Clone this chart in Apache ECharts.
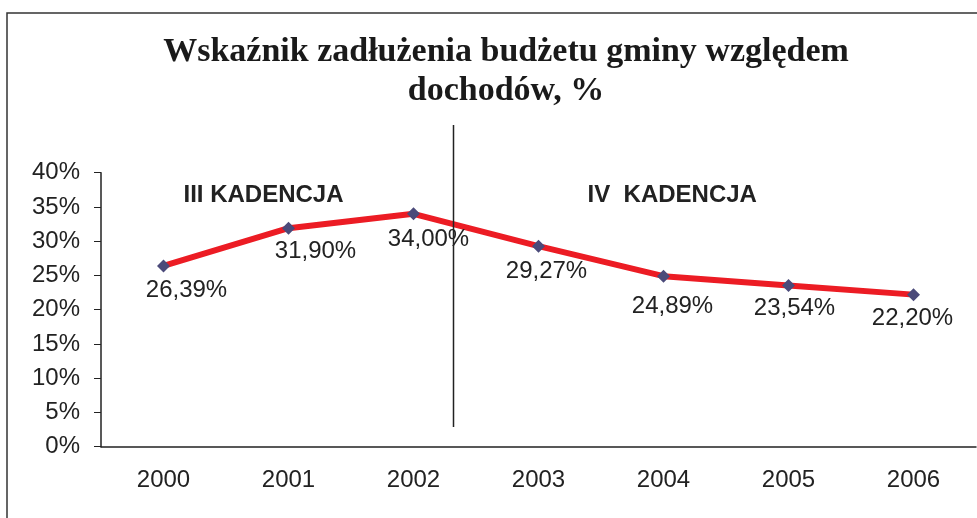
<!DOCTYPE html>
<html>
<head>
<meta charset="utf-8">
<script src="https://cdn.jsdelivr.net/npm/echarts@6/dist/echarts.min.js"></script>
<style>
  html, body { margin: 0; padding: 0; background: #fff; }
  #chart { width: 977px; height: 518px; }
</style>
</head>
<body>
<div id="chart"></div>
<script>
// data
var years = ['2000', '2001', '2002', '2003', '2004', '2005', '2006'];
var debtRatio = [26.39, 31.90, 34.00, 29.27, 24.89, 23.54, 22.20];
var yTicks = [0, 5, 10, 15, 20, 25, 30, 35, 40];
var termLabels = ['III KADENCJA', 'IV  KADENCJA'];

// label nudges (Excel put them a bit to the right / below)
var labelShift = [[23, 24], [27, 23], [15, 26], [8, 25], [9, 30], [6, 23], [-1, 24]];

var txt = '#222';
var chart = echarts.init(document.getElementById('chart'));

chart.setOption({
    animation: false,
    backgroundColor: '#fff',
    title: {
        text: 'Wskaźnik zadłużenia budżetu gminy względem\ndochodów, %',
        left: 501,
        textAlign: 'center',
        top: 28,
        textStyle: {
            fontFamily: 'Liberation Serif',
            fontWeight: 'bold',
            fontSize: 34,
            lineHeight: 39,
            color: '#1a1a1a'
        }
    },
    grid: { left: 101, right: 1, top: 172.7, bottom: 71.3 },
    xAxis: {
        type: 'category',
        data: years,
        axisLine: { lineStyle: { color: txt, width: 1.5 } },
        axisTick: { length: 7, lineStyle: { color: txt } },
        axisLabel: { color: txt, fontSize: 24, fontFamily: 'Liberation Sans', margin: 22 }
    },
    yAxis: {
        type: 'value',
        min: yTicks[0],
        max: yTicks[yTicks.length - 1],
        interval: yTicks[1] - yTicks[0],
        splitLine: { show: false },
        axisLine: { show: true, lineStyle: { color: txt, width: 1.5 } },
        axisTick: { show: true, length: 7, lineStyle: { color: txt } },
        axisLabel: {
            color: txt, fontSize: 24, fontFamily: 'Liberation Sans', margin: 21,
            formatter: '{value}%'
        }
    },
    series: [{
        type: 'line',
        data: debtRatio.map(function (v, i) {
            return { value: v, label: { offset: labelShift[i] } };
        }),
        symbol: 'diamond',
        symbolSize: 13,
        lineStyle: { color: '#ec1c24', width: 6 },
        itemStyle: { color: '#4b4a7a' },
        label: {
            show: true,
            position: 'inside',
            color: txt,
            fontSize: 24,
            fontFamily: 'Liberation Sans',
            formatter: function (p) {
                return p.value.toFixed(2).replace('.', ',') + '%';
            }
        },
        z: 3
    }]
});

// term divider between 2002 and 2003 + the term captions
function px(cat, val) {
    var x0 = chart.convertToPixel({ xAxisIndex: 0 }, Math.floor(cat));
    var x1 = chart.convertToPixel({ xAxisIndex: 0 }, Math.floor(cat) + 1);
    var x = x0 + (x1 - x0) * (cat - Math.floor(cat));
    var y = chart.convertToPixel({ yAxisIndex: 0 }, val);
    return [x, y];
}
var divTop = px(2.32, 46.97), divBot = px(2.32, 2.88);
var t1 = px(0.8, 36.7), t2 = px(4.07, 36.7);

chart.setOption({
    graphic: [
        {
            type: 'rect',
            shape: { x: 7, y: 13, width: 1000, height: 600 },
            style: { fill: null, stroke: '#333', lineWidth: 1.5 },
            silent: true, z: 0
        },
        {
            type: 'line',
            shape: { x1: divTop[0], y1: divTop[1], x2: divBot[0], y2: divBot[1] },
            style: { stroke: '#222', lineWidth: 1.5 },
            z: 10
        },
        {
            type: 'text', x: t1[0], y: t1[1],
            style: {
                text: termLabels[0], fill: txt, font: 'bold 24px "Liberation Sans"',
                align: 'center', verticalAlign: 'middle'
            }
        },
        {
            type: 'text', x: t2[0], y: t2[1],
            style: {
                text: termLabels[1], fill: txt, font: 'bold 24px "Liberation Sans"',
                align: 'center', verticalAlign: 'middle'
            }
        }
    ]
});
</script>
</body>
</html>
